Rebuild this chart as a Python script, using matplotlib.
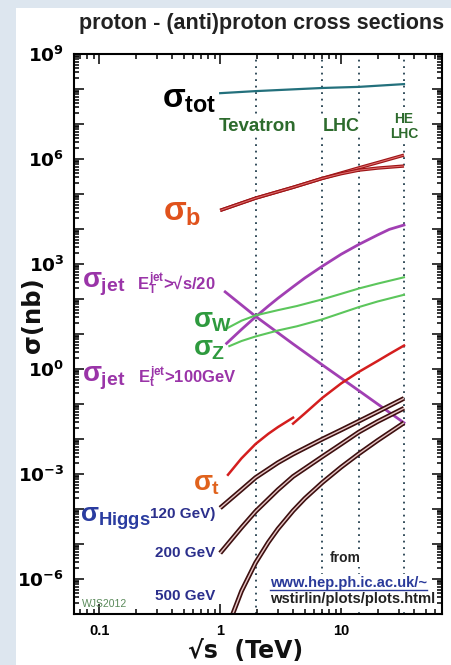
import matplotlib
matplotlib.use("Agg")
import matplotlib.pyplot as plt
import numpy as np
from matplotlib.ticker import FuncFormatter, FixedLocator, LogLocator, NullFormatter
from matplotlib.lines import Line2D
from matplotlib.patches import Rectangle
from matplotlib.transforms import IdentityTransform

plt.rcParams['font.family'] = ['Liberation Sans', 'DejaVu Sans']
plt.rcParams['font.weight'] = 'bold'
plt.rcParams['mathtext.fontset'] = 'dejavusans'
plt.rcParams['mathtext.rm'] = 'Liberation Sans:bold'
plt.rcParams['mathtext.it'] = 'Liberation Sans:bold'
plt.rcParams['mathtext.bf'] = 'Liberation Sans:bold'

# collider energies (TeV)
tevatron = 1.96
lhc = [7, 14]
he_lhc = 33

# cross sections in nb vs sqrt(s) in TeV
tot_x = [1, 1.96, 7, 14, 33]
tot_y = [7.6e7, 8.7e7, 1.07e8, 1.15e8, 1.38e8]

b_x = [1, 1.96, 4, 7, 10, 14, 20, 33]
b_hi = [3.4e4, 7.6e4, 1.55e5, 2.8e5, 4.0e5, 5.6e5, 7.9e5, 1.29e6]
b_lo = [3.4e4, 7.6e4, 1.55e5, 2.8e5, 3.8e5, 4.8e5, 5.5e5, 6.3e5]

jet_scaled_x = [1.1, 1.96, 4, 7, 14, 33]
jet_scaled_y = [160, 32, 5.2, 1.3, 0.24, 0.029]

jet100_x = [1.13, 1.5, 1.96, 2.5, 3, 4, 5, 7, 10, 14, 20, 25, 33]
jet100_y = [5.4, 13.5, 31, 63, 105, 224, 398, 871, 1905, 3630, 6760, 9770, 1.3e4]

w_x = [1.15, 1.5, 1.96, 3, 4.3, 7, 10, 14, 20, 33]
w_y = [14.8, 24, 34, 48, 63, 98, 141, 200, 275, 417]

z_x = [1.19, 1.5, 1.96, 3, 4.3, 7, 10, 14, 20, 33]
z_y = [4.5, 6.3, 8.5, 12.6, 16.6, 26.3, 39.8, 58.9, 85, 132]

top_ppbar_x = [1.16, 1.5, 1.96, 2.5, 3, 4.0]
top_ppbar_y = [9.5e-4, 2.8e-3, 7.2e-3, 1.41e-2, 2.19e-2, 4.07e-2]
top_pp_x = [4.0, 5, 7, 10, 14, 20, 25, 33]
top_pp_y = [0.0275, 0.0537, 0.151, 0.389, 0.83, 1.70, 2.69, 4.68]

h120_x = [1, 1.5, 1.96, 3, 4, 7, 10, 14, 20, 33]
h120_y = [1.07e-4, 3.55e-4, 7.9e-4, 2.1e-3, 3.7e-3, 0.01, 0.0182, 0.0324, 0.060, 0.145]
h200_x = [1, 1.5, 1.96, 3, 4, 7, 10, 14, 20, 33]
h200_y = [5.5e-6, 2.95e-5, 8.5e-5, 3.55e-4, 8.5e-4, 3.16e-3, 7.2e-3, 0.0158, 0.0316, 0.0759]
h500_x = [1.25, 1.5, 1.96, 2.5, 3, 4, 5, 7, 10, 14, 20, 33]
h500_y = [8.7e-8, 4.5e-7, 2.9e-6, 1.12e-5, 2.7e-5, 8.9e-5, 2.0e-4, 5.75e-4, 1.58e-3,
          3.8e-3, 9.1e-3, 2.9e-2]

fig = plt.figure(figsize=(4.52, 6.65), dpi=100, facecolor='#dde6ef')
fig.add_artist(Rectangle((16 / 452, 0), 1, 1 - 8 / 665, transform=fig.transFigure,
                         facecolor='white', edgecolor='none', zorder=0))
ax = fig.add_axes([74 / 452, 51 / 665, 368 / 452, 560 / 665])
ax.set_xscale('log')
ax.set_yscale('log')
ax.set_xlim(0.062, 68)
ax.set_ylim(1e-7, 1e9)

for e in [tevatron] + lhc + [he_lhc]:
    ax.axvline(e, color='#24404f', ls=(0, (1, 2.6)), lw=1.3, zorder=1)


def double(x, y, outer, inner, lw=3.2):
    ax.plot(x, y, color=outer, lw=lw, zorder=2, solid_capstyle='butt')
    ax.plot(x, y, color=inner, lw=lw * 0.3, zorder=2, solid_capstyle='butt')


ax.plot(tot_x, tot_y, color='#23707c', lw=1.6, zorder=2)
double(b_x, b_hi, '#9e1416', '#e07070', 2.4)
double(b_x, b_lo, '#9e1416', '#e07070', 2.4)
ax.plot(jet_scaled_x, jet_scaled_y, color='#a13fb3', lw=2, zorder=2)
ax.plot(jet100_x, jet100_y, color='#a13fb3', lw=2, zorder=2)
ax.plot(w_x, w_y, color='#5cc65c', lw=1.5, zorder=2)
ax.plot(z_x, z_y, color='#5cc65c', lw=1.5, zorder=2)
ax.plot(top_ppbar_x, top_ppbar_y, color='#d41e1e', lw=1.8, zorder=2)
ax.plot(top_pp_x, top_pp_y, color='#d41e1e', lw=1.8, zorder=2)
for hx, hy in [(h120_x, h120_y), (h200_x, h200_y), (h500_x, h500_y)]:
    double(hx, hy, '#3d0f0f', '#e6c4c4', 3.4)

# axes styling
for s in ax.spines.values():
    s.set_linewidth(1.5)
ax.yaxis.set_major_locator(LogLocator(base=10, numticks=30))
ax.yaxis.set_minor_locator(LogLocator(base=10, subs=np.arange(2, 10), numticks=30))
ax.yaxis.set_major_formatter(FuncFormatter(
    lambda v, p: (r'$\mathbf{10^{%d}}$' % round(np.log10(v))) if round(np.log10(v)) % 3 == 0 else ''))
ax.yaxis.set_minor_formatter(NullFormatter())
ax.xaxis.set_major_locator(FixedLocator([0.1, 1, 10]))
ax.xaxis.set_minor_locator(LogLocator(base=10, subs=np.arange(2, 10), numticks=30))
ax.xaxis.set_major_formatter(FuncFormatter(lambda v, p: '%g' % v))
ax.xaxis.set_minor_formatter(NullFormatter())
ax.tick_params(which='both', direction='in', top=True, right=True, width=1.1)
ax.tick_params(which='major', length=7)
ax.tick_params(which='minor', length=3.5)
ax.tick_params(axis='y', labelsize=13.3, pad=7)
ax.tick_params(axis='x', labelsize=10.5, pad=7)

fig.text(262 / 452, 1 - 24 / 665, 'proton - (anti)proton cross sections',
         ha='center', va='center', fontsize=15.5, color='#222222')
fig.text(33 / 452, 1 - 315 / 665, 'σ(nb)', rotation=90, ha='center', va='center',
         fontsize=17.5, color='#111111', family='DejaVu Sans')
fig.text(246 / 452, 1 - 651 / 665, '√s  (TeV)', ha='center', va='center',
         fontsize=17, color='#111111', family='DejaVu Sans')


def label(x, y, s, size, color):
    t = ax.text(x, y, s, fontsize=size, color=color, va='center', zorder=3)
    t.set_math_fontfamily('custom')
    return t


# curve labels
label(0.332, 5.1e7, r'$\sigma_{tot}$', 24, 'black')
label(0.338, 3.0e4, r'$\sigma_{b}$', 24, '#e0521c')
label(0.0724, 260, r'$\sigma_{jet}$', 20, '#9a34a8')
label(0.206, 275, r'$E_{T}^{jet}$>√s/20', 12, '#9a34a8')
label(0.598, 24, r'$\sigma_{W}$', 20, '#2e9a3e')
label(0.598, 3.8, r'$\sigma_{Z}$', 20, '#2e9a3e')
label(0.0724, 0.53, r'$\sigma_{jet}$', 20, '#9a34a8')
label(0.21, 0.6, r'$E_{t}^{jet}$>100GeV', 12, '#9a34a8')
label(0.598, 5.2e-4, r'$\sigma_{t}$', 20, '#e0621c')
label(0.0697, 5.2e-5, r'$\sigma_{Higgs}$', 19, '#2a3ca0')
label(0.264, 7.2e-5, '120 GeV)', 11, '#2b2f8c')
label(0.29, 5.5e-6, '200 GeV', 11, '#2b2f8c')
label(0.29, 3.2e-7, '500 GeV', 11, '#2b2f8c')
ax.text(0.0724, 1.9e-7, 'WJS2012', fontsize=7.5, color='#5a8a5a', va='center',
        fontweight='normal')

wb = dict(facecolor='white', edgecolor='none', pad=1.5)
ax.text(2.02, 8.7e6, 'Tevatron', fontsize=13.5, color='#2d6b2d', ha='center', va='center', bbox=wb)
ax.text(10, 8.7e6, 'LHC', fontsize=13, color='#2d6b2d', ha='center', va='center', bbox=wb)
ax.text(33, 8.7e6, 'HE\nLHC', fontsize=10, color='#2d6b2d', ha='center', va='center',
        bbox=wb, linespacing=1.1)
ax.text(8.1, 4e-6, 'from', fontsize=10, color='#222222', va='center', bbox=wb)
url = ax.text(2.59, 7.6e-7, 'www.hep.ph.ic.ac.uk/~', fontsize=10.6, color='#2a3a9a',
              va='center', bbox=wb)
ax.text(2.59, 2.7e-7, 'wstirlin/plots/plots.html', fontsize=10.6, color='#222222',
        va='center', bbox=wb)

fig.canvas.draw()
bb = url.get_window_extent()
fig.add_artist(Line2D([bb.x0, bb.x1], [bb.y0 + 0.5, bb.y0 + 0.5], transform=IdentityTransform(),
                      color='#2a3a9a', lw=1))

fig.savefig('out.png', dpi=100, facecolor=fig.get_facecolor())
